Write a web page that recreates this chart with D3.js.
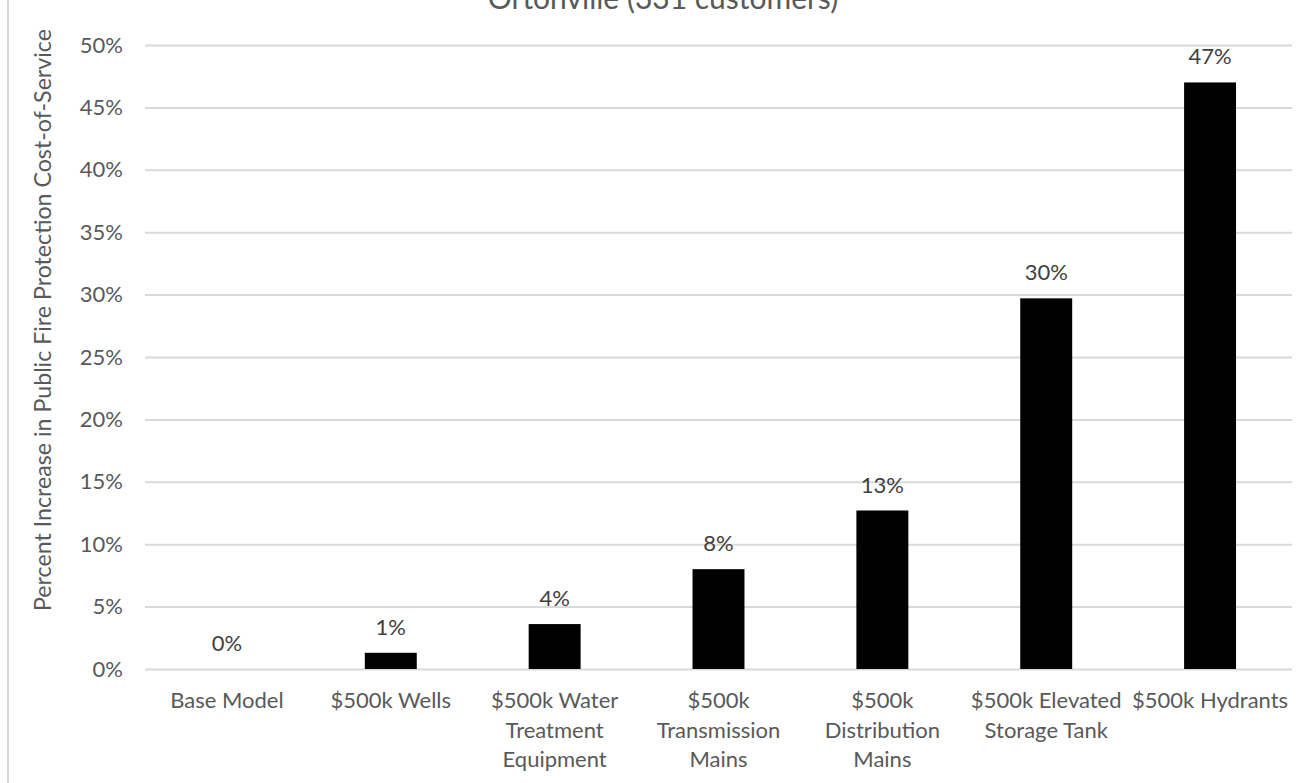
<!DOCTYPE html>
<html>
<head>
<meta charset="utf-8">
<script src="https://cdn.jsdelivr.net/npm/d3@7"></script>
<style>
  body { margin: 0; background: #fff; }
  svg { display: block; }
  text { font-family: Lato, "Open Sans", sans-serif; }
</style>
</head>
<body>
<svg id="chart" width="1308" height="783"></svg>
<script>
// Scenario names; "\n" marks where the axis label breaks onto a new line
const categories = [
  "Base Model",
  "$500k Wells",
  "$500k Water\nTreatment\nEquipment",
  "$500k\nTransmission\nMains",
  "$500k\nDistribution\nMains",
  "$500k Elevated\nStorage Tank",
  "$500k Hydrants"
];
// Percent increase in public fire protection cost-of-service
const values = [0, 1.3, 3.6, 8.0, 12.7, 29.7, 47.0];
const yTicks = [0, 5, 10, 15, 20, 25, 30, 35, 40, 45, 50];

const chartTitle = "Ortonville (331 customers)";
const yTitle = "Percent Increase in Public Fire Protection Cost-of-Service";

const svg = d3.select("#chart");
const plot = { left: 145, right: 1292, top: 45, bottom: 669 };

const x = d3.scaleBand()
  .domain(categories)
  .range([plot.left, plot.right])
  .paddingInner(0.683)
  .paddingOuter(0.3415);

const y = d3.scaleLinear()
  .domain([0, 50])
  .range([plot.bottom, plot.top]);

// chart area border (left edge)
svg.append("line")
  .attr("x1", 8).attr("x2", 8)
  .attr("y1", 0).attr("y2", 783)
  .attr("stroke", "#d9d9d9")
  .attr("stroke-width", 2);

// title
svg.append("text")
  .attr("x", 663).attr("y", 9)
  .attr("text-anchor", "middle")
  .attr("font-size", 30)
  .attr("fill", "#595959")
  .text(chartTitle);

// y axis with gridlines
const yAxis = svg.append("g")
  .attr("transform", `translate(${plot.left},0)`)
  .call(d3.axisLeft(y)
    .tickValues(yTicks)
    .tickSize(-(plot.right - plot.left))
    .tickPadding(22)
    .tickFormat(d => d + "%"));
yAxis.select(".domain").remove();
yAxis.selectAll(".tick line")
  .attr("stroke", "#d9d9d9")
  .attr("stroke-width", 2);
yAxis.selectAll(".tick text")
  .attr("font-size", 22)
  .attr("fill", "#595959")
  .attr("font-family", "Lato, 'Open Sans', sans-serif");

// y axis title
svg.append("text")
  .attr("transform", `translate(51,${320}) rotate(-90)`)
  .attr("text-anchor", "middle")
  .attr("font-size", 23.2)
  .attr("fill", "#595959")
  .text(yTitle);

// bars
svg.append("g")
  .selectAll("rect")
  .data(values)
  .join("rect")
  .attr("x", (d, i) => x(categories[i]))
  .attr("width", x.bandwidth())
  .attr("y", d => y(d))
  .attr("height", d => y(0) - y(d))
  .attr("fill", "#000");

// value labels
const pct = d3.format(".0f");
svg.append("g")
  .selectAll("text")
  .data(values)
  .join("text")
  .attr("x", (d, i) => x(categories[i]) + x.bandwidth() / 2)
  .attr("y", d => y(d) - 18)
  .attr("text-anchor", "middle")
  .attr("font-size", 22)
  .attr("fill", "#404040")
  .text(d => pct(d) + "%");

// x axis category labels (multi-line)
const xAxis = svg.append("g")
  .attr("transform", `translate(0,${plot.bottom})`)
  .call(d3.axisBottom(x).tickSize(0).tickFormat(""));
xAxis.select(".domain").remove();
xAxis.selectAll(".tick").each(function (d) {
  const t = d3.select(this).append("text")
    .attr("text-anchor", "middle")
    .attr("font-size", 22)
    .attr("fill", "#595959")
    .attr("font-family", "Lato, 'Open Sans', sans-serif");
  d.split("\n").forEach((line, k) => {
    t.append("tspan")
      .attr("x", 0)
      .attr("y", 39 + k * 29.5)
      .text(line);
  });
});
</script>
</body>
</html>
